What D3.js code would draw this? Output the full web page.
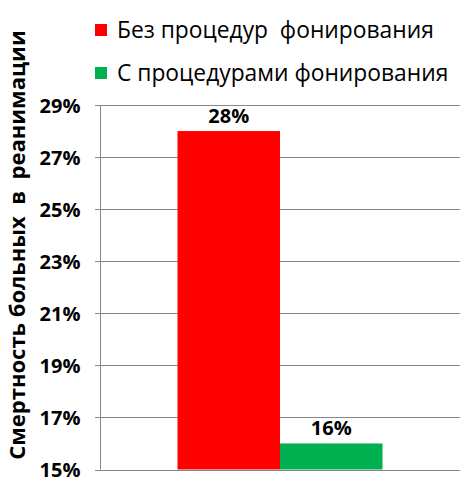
<!DOCTYPE html>
<html><head><meta charset="utf-8">
<script src="https://cdn.jsdelivr.net/npm/d3@7"></script>
<style>body{margin:0;background:#fff}svg{display:block}</style>
</head><body>
<svg id="c" width="471" height="487"></svg>
<script>
const categories = ["Без процедур  фонирования", "С процедурами фонирования"];
const values = [28, 16];
const colors = ["#ff0000", "#00b050"];
const valueLabels = ["28%", "16%"];
const yTicks = [15, 17, 19, 21, 23, 25, 27, 29];
const yTitle = "Смертность больных  в  реанимации";

const svg = d3.select("#c");
const margin = {left: 100, right: 11, top: 105, bottom: 17};
const W = 471, H = 487;
const y = d3.scaleLinear().domain([15, 29]).range([H - margin.bottom - 0.5, margin.top]);
const x0 = d3.scaleBand().domain(["g"]).range([margin.left, W - margin.right]).paddingInner(0).paddingOuter(0.378);
const x1 = d3.scaleBand().domain(categories).range([0, x0.bandwidth()]).padding(0);

const font = "'Open Sans', 'DejaVu Sans', sans-serif";

// gridlines
svg.append("g").selectAll("line").data(yTicks).join("line")
  .attr("x1", margin.left - 5).attr("x2", W - margin.right)
  .attr("y1", d => Math.round(y(d)) + 0.5).attr("y2", d => Math.round(y(d)) + 0.5)
  .attr("stroke", "#868686").attr("stroke-width", 1);

// bars
svg.append("g").selectAll("rect").data(values).join("rect")
  .attr("x", (d, i) => x0("g") + x1(categories[i]))
  .attr("width", x1.bandwidth())
  .attr("y", d => y(d))
  .attr("height", d => y(15) - y(d))
  .attr("fill", (d, i) => colors[i]);

// axis
const axis = d3.axisLeft(y).tickValues(yTicks).tickFormat(d => d + "%").tickSize(0).tickPadding(20);
const ag = svg.append("g").attr("transform", `translate(${margin.left + 0.5},0)`).call(axis);
ag.select(".domain").attr("stroke", "#868686").attr("d", `M0,${y(29)}V${y(15)}`);
ag.selectAll("text").attr("font-family", font).attr("font-weight", "bold").attr("font-size", 20).attr("fill", "#000").attr("dy", "0.36em");

// value labels
svg.append("g").selectAll("text").data(values).join("text")
  .attr("x", (d, i) => x0("g") + x1(categories[i]) + x1.bandwidth() / 2)
  .attr("y", d => y(d) - 8)
  .attr("text-anchor", "middle")
  .attr("font-family", font).attr("font-weight", "bold").attr("font-size", 20)
  .text((d, i) => valueLabels[i]);

// y title
svg.append("text")
  .attr("transform", `translate(25,245) rotate(-90)`)
  .attr("text-anchor", "middle")
  .attr("font-family", font).attr("font-weight", "bold").attr("font-size", 22)
  .style("white-space", "pre")
  .text(yTitle);

// legend
const lg = svg.append("g").selectAll("g").data(categories).join("g")
  .attr("transform", (d, i) => `translate(95,${24 + i * 43})`);
lg.append("rect").attr("width", 12).attr("height", 12).attr("fill", (d, i) => colors[i]);
lg.append("text").attr("x", 22).attr("y", 14)
  .attr("font-family", font).attr("font-size", 22.8).style("white-space", "pre")
  .text(d => d);
</script>
</body></html>
